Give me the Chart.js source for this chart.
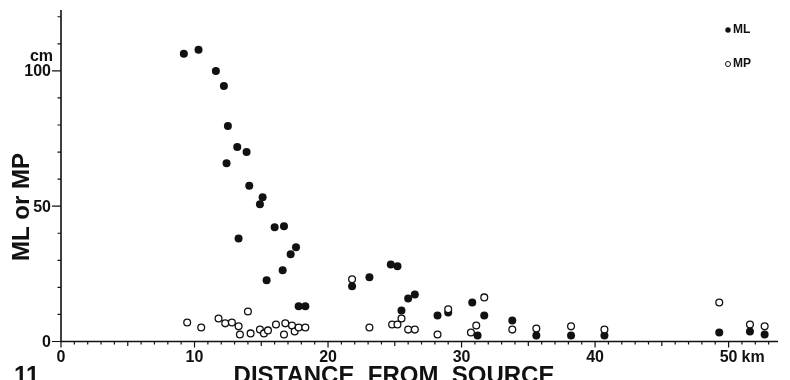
<!DOCTYPE html>
<html lang="en">
<head>
<meta charset="UTF-8">
<title>ML or MP - distance from source</title>
<script src="https://cdn.jsdelivr.net/npm/chart.js"></script>
<style>
  body { margin: 0; background: #fff; }
  .wrap { width: 790px; height: 380px; position: relative; }
</style>
</head>
<body>
<div class="wrap"><canvas id="chart"></canvas></div>
<script>
// ML (filled dots): distance in km, value in cm
const mlDistance = [9.2, 10.3, 11.6, 12.2, 12.5, 13.2, 13.9, 12.4, 14.1, 15.1,
                    14.9, 13.3, 16.0, 16.7, 17.6, 17.2, 16.6, 15.4, 17.8, 18.3,
                    21.8, 23.1, 24.7, 25.2, 25.5, 26.0, 26.5, 28.2, 29.0, 30.8,
                    31.7, 31.2, 33.8, 35.6, 38.2, 40.7, 49.3, 51.6, 52.7];
const mlValue = [106.3, 107.8, 100, 94.4, 79.6, 71.9, 70, 65.9, 57.6, 53.3,
                 50.7, 38.1, 42.2, 42.6, 34.8, 32.2, 26.3, 22.6, 13.0, 13.0,
                 20.4, 23.7, 28.5, 27.8, 11.5, 15.9, 17.4, 9.6, 10.7, 14.4,
                 9.6, 2.2, 7.8, 2.2, 2.2, 2.2, 3.3, 3.7, 2.6];

// MP (open circles)
const mpDistance = [9.45, 10.5, 11.8, 12.3, 12.8, 13.3, 13.4, 14.0, 14.2, 14.9,
                    15.2, 15.5, 16.1, 16.7, 16.8, 17.3, 17.5, 17.8, 18.3, 21.8,
                    23.1, 24.8, 25.2, 25.5, 26.0, 26.5, 28.2, 29.0, 30.7, 31.1,
                    31.7, 33.8, 35.6, 38.2, 40.7, 49.3, 51.6, 52.7];
const mpValue = [7.0, 5.2, 8.5, 6.7, 7.0, 5.6, 2.6, 11.1, 3.0, 4.4,
                 3.0, 4.1, 6.3, 2.6, 6.7, 5.9, 3.7, 5.2, 5.2, 23.0,
                 5.2, 6.3, 6.3, 8.5, 4.4, 4.4, 2.6, 11.9, 3.3, 5.9,
                 16.3, 4.4, 4.8, 5.6, 4.4, 14.4, 6.3, 5.6];

const xTickValues = [0, 10, 20, 30, 40, 50];
const xTickLabels = ['0', '10', '20', '30', '40', '50'];
const yTickValues = [0, 50, 100];
const yTickLabels = ['0', '50', '100'];

const ink = '#111';
const font = '"Liberation Sans", Arial, sans-serif';

// old-style axes: hairline ticks, unit labels, titles, figure number, legend
const paperAxes = {
  id: 'paperAxes',
  beforeDatasetsDraw(chart) {
    const ctx = chart.ctx;
    const xs = chart.scales.x, ys = chart.scales.y;
    const x0 = xs.getPixelForValue(0), y0 = ys.getPixelForValue(0);
    ctx.save();
    ctx.strokeStyle = ink;
    ctx.fillStyle = ink;

    ctx.lineWidth = 1.6;
    ctx.beginPath();
    ctx.moveTo(x0, ys.top);
    ctx.lineTo(x0, y0);
    ctx.lineTo(xs.right, y0);
    ctx.stroke();

    ctx.lineWidth = 1.2;
    ctx.beginPath();
    for (let v = 0; v <= xs.max; v++) {
      const px = xs.getPixelForValue(v);
      const len = v % 10 === 0 ? 6 : (v % 5 === 0 ? 4.5 : 3);
      ctx.moveTo(px, y0);
      ctx.lineTo(px, y0 + len);
    }
    for (let v = 10; v <= ys.max; v += 10) {
      const py = ys.getPixelForValue(v);
      const len = v % 50 === 0 ? 9 : 3.5;
      ctx.moveTo(x0, py);
      ctx.lineTo(x0 - len, py);
    }
    ctx.moveTo(x0, y0);
    ctx.lineTo(x0 - 9, y0);
    ctx.stroke();

    // tick labels
    ctx.font = 'bold 16px ' + font;
    ctx.textAlign = 'center';
    ctx.textBaseline = 'alphabetic';
    xTickValues.forEach((v, i) => {
      ctx.fillText(xTickLabels[i], xs.getPixelForValue(v), y0 + 20);
    });
    const x50 = xs.getPixelForValue(50);
    ctx.textAlign = 'left';
    ctx.fillText('km', x50 + 13, y0 + 20);

    ctx.textAlign = 'right';
    ctx.textBaseline = 'middle';
    yTickValues.forEach((v, i) => {
      ctx.fillText(yTickLabels[i], x0 - 10, ys.getPixelForValue(v) + 1);
    });
    ctx.font = 'bold 16px ' + font;
    ctx.fillText('cm', x0 - 8, ys.getPixelForValue(100) - 14);

    // axis titles
    ctx.font = 'bold 24px ' + font;
    ctx.textAlign = 'center';
    ctx.textBaseline = 'alphabetic';
    ctx.fillText('DISTANCE  FROM  SOURCE', 394, 383);
    ctx.textAlign = 'left';
    ctx.fillText('11', 14, 383);

    ctx.save();
    ctx.translate(22, 207);
    ctx.rotate(-Math.PI / 2);
    ctx.textAlign = 'center';
    ctx.textBaseline = 'middle';
    ctx.fillText('ML or MP', 0, 0);
    ctx.restore();

    // legend
    ctx.font = 'bold 12px ' + font;
    ctx.textAlign = 'left';
    ctx.textBaseline = 'middle';
    ctx.beginPath();
    ctx.arc(728, 30, 2.7, 0, Math.PI * 2);
    ctx.fill();
    ctx.fillText('ML', 733, 30);
    ctx.lineWidth = 1;
    ctx.beginPath();
    ctx.arc(728, 64, 2.5, 0, Math.PI * 2);
    ctx.stroke();
    ctx.fillText('MP', 733, 64);

    ctx.restore();
  }
};

new Chart(document.getElementById('chart'), {
  type: 'scatter',
  data: {
    datasets: [
      {
        label: 'ML',
        data: mlDistance.map((d, i) => ({ x: d, y: mlValue[i] })),
        pointRadius: 4,
        pointBackgroundColor: ink,
        pointBorderWidth: 0,
        order: 2
      },
      {
        label: 'MP',
        data: mpDistance.map((d, i) => ({ x: d, y: mpValue[i] })),
        pointRadius: 3.4,
        pointBackgroundColor: '#fff',
        pointBorderColor: ink,
        pointBorderWidth: 1.3,
        order: 1
      }
    ]
  },
  options: {
    responsive: true,
    maintainAspectRatio: false,
    animation: false,
    layout: { padding: { left: 61, right: 12, top: 10, bottom: 38.5 } },
    scales: {
      x: { type: 'linear', min: 0, max: 53.7, display: false },
      y: { type: 'linear', min: 0, max: 122.5, display: false }
    },
    plugins: {
      legend: { display: false },
      tooltip: { enabled: false }
    }
  },
  plugins: [paperAxes]
});
</script>
</body>
</html>
